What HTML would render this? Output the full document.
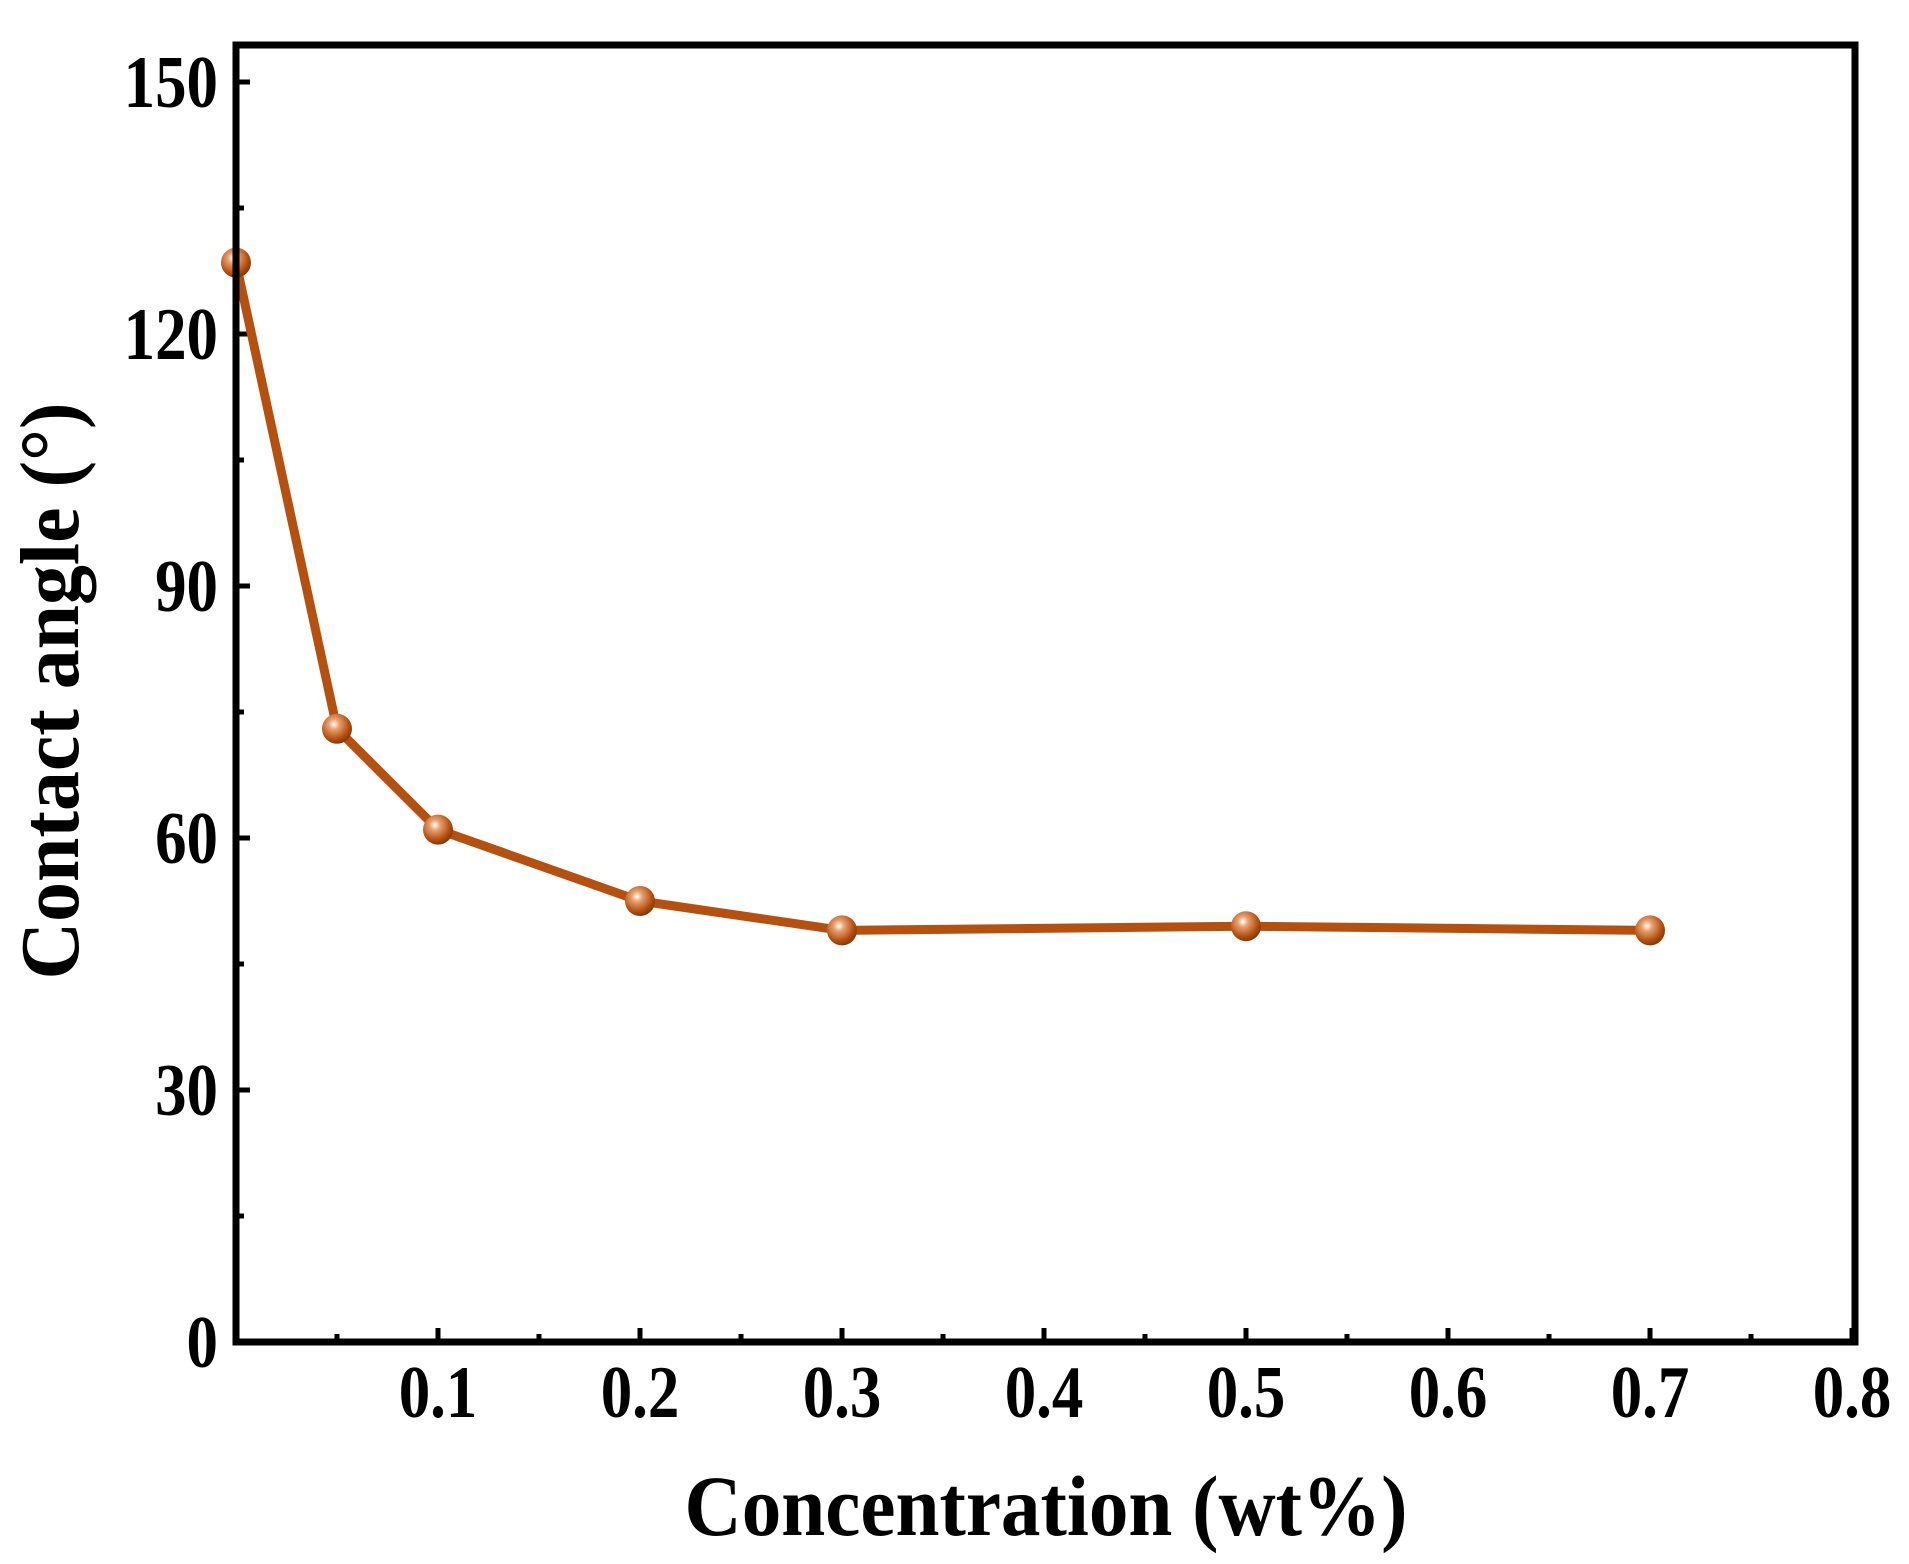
<!DOCTYPE html>
<html><head><meta charset="utf-8"><style>
html,body{margin:0;padding:0;background:#fff;}
svg{display:block;}
text{font-family:"Liberation Serif",serif;font-weight:bold;fill:#000;}
</style></head><body>
<svg id="chart" width="1909" height="1564" viewBox="0 0 1909 1564" xmlns="http://www.w3.org/2000/svg">
<defs>
<radialGradient id="ball" cx="0.4" cy="0.35" r="0.7">
<stop offset="0" stop-color="#ffffff"/>
<stop offset="0.25" stop-color="#e8a070"/>
<stop offset="0.7" stop-color="#b5500f"/>
<stop offset="1" stop-color="#7a3205"/>
</radialGradient>
</defs>
<g id="ticks"></g>
<g id="series"></g>
<rect x="236" y="45" width="1619" height="1297" fill="none" stroke="#000" stroke-width="7"/>
<text transform="translate(1046,1535) scale(0.92,1)" font-size="86" text-anchor="middle">Concentration (wt%)</text>
<text transform="translate(78,691) rotate(-90) scale(0.95,1)" font-size="84" text-anchor="middle">Contact angle (°)</text>
</svg>
<script>
const xValues = [0, 0.05, 0.1, 0.2, 0.3, 0.5, 0.7];
const yValues = [128.5, 73, 61, 52.5, 49, 49.5, 49];
const xTickLabels = ["0.1","0.2","0.3","0.4","0.5","0.6","0.7","0.8"];
const xTickValues = [0.1,0.2,0.3,0.4,0.5,0.6,0.7,0.8];
const yTickLabels = ["0","30","60","90","120","150"];
const yTickValues = [0,30,60,90,120,150];

const X0=236, XPER=2020, Y0=1342, YPER=252/30;
const sx = v => X0 + v*XPER;
const sy = v => Y0 - v*YPER;
const NS="http://www.w3.org/2000/svg";
const ticks=document.getElementById('ticks');
const series=document.getElementById('series');
function mk(tag, attrs, parent){const e=document.createElementNS(NS,tag);for(const k in attrs)e.setAttribute(k,attrs[k]);parent.appendChild(e);return e;}

for(let i=1;i<=16;i++){
  const v=i*0.05, major=i%2===0;
  const t=mk('line',{x1:sx(v),x2:sx(v),y1:Y0,y2:Y0-(major?14:8),stroke:'#000','stroke-width':5},ticks);
  
  
}
xTickValues.forEach((v,i)=>{
  const t=mk('text',{transform:'translate('+sx(v)+',1417) scale(0.85,1)','font-size':74,'text-anchor':'middle'},ticks);
  t.textContent=xTickLabels[i];
  
  
});
for(let i=1;i<=10;i++){
  const v=i*15, major=i%2===0;
  const t=mk('line',{x1:X0,x2:X0+(major?14:8),y1:sy(v),y2:sy(v),stroke:'#000','stroke-width':5},ticks);
  
  
}
yTickValues.forEach((v,i)=>{
  const t=mk('text',{transform:'translate(218,'+(sy(v)+25)+') scale(0.85,1)','font-size':74,'text-anchor':'end'},ticks);
  t.textContent=yTickLabels[i];
  
  
});
const pts=xValues.map((x,i)=>sx(x)+','+sy(yValues[i])).join(' ');
const pl=mk('polyline',{points:pts,fill:'none',stroke:'#b5500f','stroke-width':9,'stroke-linejoin':'round'},series);


xValues.forEach((x,i)=>{
  const c=mk('circle',{cx:sx(x),cy:sy(yValues[i]),r:15,fill:'url(#ball)'},series);
  
  
});
</script>
</body></html>
